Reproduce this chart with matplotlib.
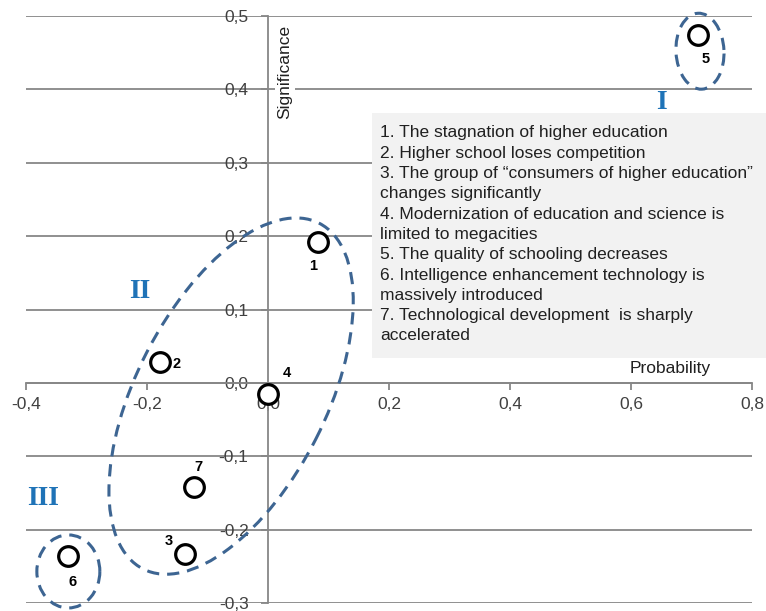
import matplotlib
matplotlib.use("Agg")
import matplotlib.pyplot as plt
from matplotlib.patches import Ellipse, Rectangle
from matplotlib.ticker import FuncFormatter, MultipleLocator
import matplotlib.transforms as mtransforms

plt.rcParams['font.family'] = ['Liberation Sans', 'DejaVu Sans']

# Data
labels = ['1', '2', '3', '4', '5', '6', '7']
probability = [0.083, -0.178, -0.138, 0.0, 0.71, -0.33, -0.123]
significance = [0.192, 0.029, -0.233, -0.015, 0.474, -0.236, -0.142]
label_offsets = [(-5, -24), (16, -2), (-16, 13), (19, 21), (8, -24), (4, -26), (5, 20)]
legend_lines = [
    "1. The stagnation of higher education",
    "2. Higher school loses competition",
    "3. The group of \u201cconsumers of higher education\u201d",
    "changes significantly",
    "4. Modernization of education and science is",
    "limited to megacities",
    "5. The quality of schooling decreases",
    "6. Intelligence enhancement technology is",
    "massively introduced",
    "7. Technological development  is sharply",
    "accelerated",
]
groups = ['I', 'II', 'III']
group_pos = [(0.650, 0.382), (-0.212, 0.124), (-0.372, -0.157)]
# ellipse: center (data), width/height (pixels), angle (deg on screen)
ellipses = [((0.714, 0.452), 76, 48, 93), ((-0.061, -0.018), 388, 190, 63), ((-0.330, -0.257), 73, 63, 90)]

W, H = 766, 611
fig = plt.figure(figsize=(W / 100, H / 100), dpi=100)
ax = fig.add_axes([26 / W, 8 / H, 726 / W, 587 / H])
xmin, xmax, ymin, ymax = -0.4, 0.8, -0.3, 0.5
ax.set_xlim(xmin, xmax)
ax.set_ylim(ymin, ymax)

gray = '#878787'
for s in ['top', 'right']:
    ax.spines[s].set_visible(False)
ax.spines['left'].set_position(('data', 0))
ax.spines['bottom'].set_position(('data', 0))
for s in ['left', 'bottom']:
    ax.spines[s].set_color(gray)
    ax.spines[s].set_linewidth(1.3)

ax.xaxis.set_major_locator(MultipleLocator(0.2))
ax.yaxis.set_major_locator(MultipleLocator(0.1))
fmt = FuncFormatter(lambda v, p: ("%.1f" % v).replace('.', ',').replace('-0,0', '0,0'))
ax.xaxis.set_major_formatter(fmt)
ax.yaxis.set_major_formatter(fmt)
ax.tick_params(axis='x', direction='out', length=5, width=1.3, color=gray,
               labelsize=12.5, labelcolor='#404040', pad=5)
ax.tick_params(axis='y', direction='out', length=5, width=1.3, color=gray,
               labelsize=12.5, labelcolor='#404040', pad=9)
ax.yaxis.grid(True, color=gray, linewidth=1.3)
ax.set_axisbelow(True)

# pixel scale
sx = 726 / (xmax - xmin)
sy = 587 / (ymax - ymin)
iso = mtransforms.Affine2D().scale(1, sx / sy) + ax.transData
for (c, w, h, a) in ellipses:
    e = Ellipse((c[0], c[1] * sy / sx), w / sx, h / sx, angle=a, transform=iso,
                fill=False, edgecolor='#3d6592', linewidth=2.2,
                linestyle=(0, (4, 2.6)), clip_on=False, zorder=3)
    ax.add_patch(e)

ax.scatter(probability, significance, s=200, facecolors='white', edgecolors='black',
           linewidths=2.3, zorder=5, clip_on=False)
for lab, x, y, off in zip(labels, probability, significance, label_offsets):
    ax.annotate(lab, (x, y), xytext=off, textcoords='offset pixels', ha='center', va='center',
                fontsize=10.5, fontweight='bold', color='black', zorder=6)

for g, (gx, gy) in zip(groups, group_pos):
    ax.text(gx, gy, g, fontsize=20, fontweight='bold', color='#1f73b7',
            family=['Liberation Serif', 'DejaVu Serif'], ha='center', va='center')

# axis titles
ax.text(285 / W, 1 - 72 / H, 'Significance', transform=fig.transFigure, rotation=90,
        ha='center', va='center', fontsize=12.5, color='#202020',
        bbox=dict(facecolor='white', edgecolor='none', pad=1.5))
ax.text(670 / W, 1 - 368 / H, 'Probability', transform=fig.transFigure,
        ha='center', va='center', fontsize=12.5, color='#202020')

# legend box
fig.patches.append(Rectangle((372 / W, 1 - 358 / H), (W - 372) / W, 245 / H,
                             transform=fig.transFigure, facecolor='#f2f2f2',
                             edgecolor='none', zorder=4))
y0 = 133
for i, line in enumerate(legend_lines):
    fig.text(380 / W, 1 - (y0 + i * 20.3) / H, line, ha='left', va='center',
             fontsize=12.5, color='#202020', zorder=5)

fig.savefig('out.png', dpi=100)
